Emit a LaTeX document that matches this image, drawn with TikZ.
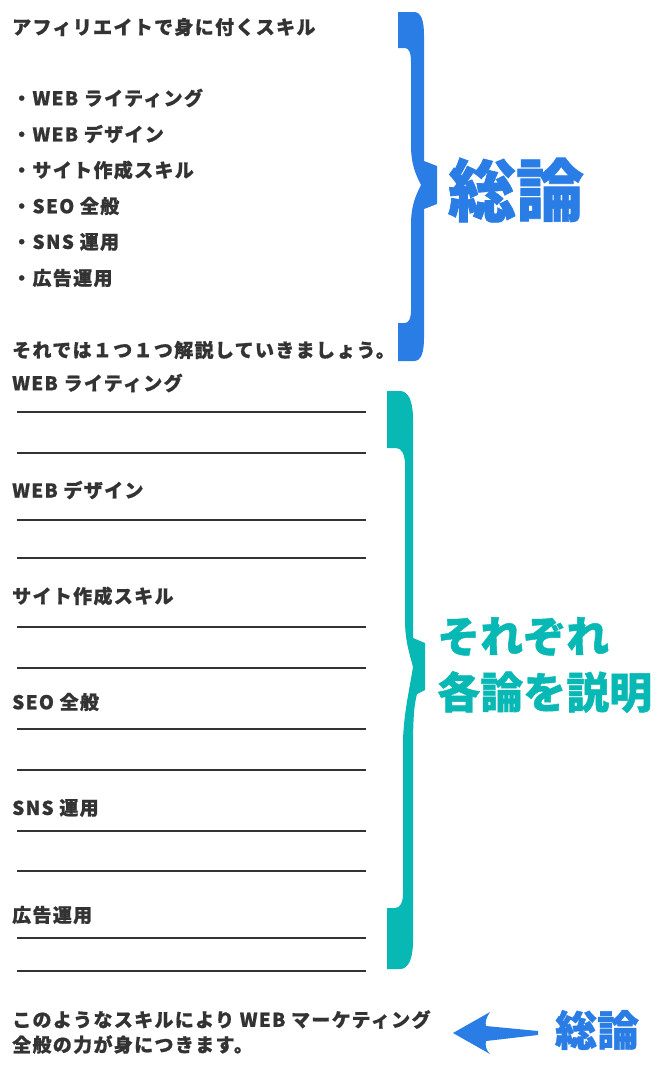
\documentclass[tikz,border=0pt]{standalone}
\usepackage{fontspec}
\usepackage{xcolor}
\usepackage{tikz}
\newfontfamily\jpfont[LetterSpace=7, FakeBold=0.8]{Noto Sans CJK JP}
\newfontfamily\jpbig[FakeBold=1]{Noto Sans CJK JP}
\definecolor{cbblue}{HTML}{2B7DE6}
\definecolor{cbteal}{HTML}{08B8B4}
\definecolor{ink}{HTML}{333333}

\begin{document}
\begin{tikzpicture}[x=1pt, y=-1pt,
    txt/.style={anchor=west, inner sep=0pt, text=ink,
      font=\jpfont\bfseries\fontsize{19}{22}\selectfont},
    bigword/.style={inner sep=0pt, font=\jpbig\bfseries},
    rule/.style={ink, line width=2pt}]

  \useasboundingbox (0,0) rectangle (660,1068);

  % -- the summary block at the top
  \node[txt] (title) at (12,27) {アフィリエイトで身に付くスキル};
  \foreach \ty/\name [count=\i] in {98/WEB ライティング, 134/WEB デザイン,
      170/サイト作成スキル, 206/SEO 全般, 242/SNS 運用, 278/広告運用}{
    \node[txt] (item\i) at (12,\ty) {・\name};}
  \node[txt] (closing) at (12,350) {それでは１つ１つ解説していきましょう。};

  % blue brace, tip pointing right at the middle
  \fill[cbblue] (398,12) -- (414,12) .. controls (421,12) and (424,20) .. (424,35)
    -- (424,161) -- (437,166) -- (437,204) -- (424,209) -- (424,338)
    .. controls (424,353) and (421,361) .. (414,361) -- (398,361) -- (398,323)
    -- (405,323) .. controls (409,323) and (411,318) .. (411,310) -- (411,225)
    .. controls (411,205) and (416,195) .. (421,185)
    .. controls (416,175) and (411,165) .. (411,145) -- (411,62)
    .. controls (411,53) and (409,48) .. (405,48) -- (398,48) -- cycle;
  \node[bigword, text=cbblue, font=\jpbig\bfseries\fontsize{68}{70}\selectfont]
    (overview) at (516,190) {総論};

  % -- one heading per skill, each with two blank writing lines under it
  \foreach \ty/\la/\lb/\name [count=\i] in {383/412/453/WEB ライティング,
      490/520/558/WEB デザイン, 596/627/668/サイト作成スキル,
      702/729/770/SEO 全般, 808/831/871/SNS 運用, 915/938/971/広告運用}{
    \node[txt] (head\i) at (12,\ty) {\name};
    \draw[rule] (17,\la) -- (366,\la);
    \draw[rule] (17,\lb) -- (366,\lb);}

  % teal brace over all the headings
  \fill[cbteal] (387,391) -- (400,391) .. controls (408,391) and (413,400) .. (413,420)
    -- (413,638) -- (425,643) -- (425,690) -- (417,694)
    .. controls (414,705) and (413,720) .. (413,750) -- (413,940)
    .. controls (413,960) and (408,969) .. (400,969) -- (387,969) -- (387,908)
    -- (395,908) .. controls (400,908) and (403,903) .. (403,893) -- (403,740)
    .. controls (404,712) and (409,692) .. (413,667)
    .. controls (409,652) and (405,640) .. (405,620) -- (405,465)
    .. controls (405,455) and (402,448) .. (396,448) -- (387,448) -- cycle;
  \node[bigword, text=cbteal, anchor=west,
    font=\jpbig\bfseries\fontsize{43}{56}\selectfont, align=left]
    (each) at (437,665) {それぞれ\\各論を説明};

  % -- closing summary, with the arrow back to it
  \node[txt, align=left, font=\jpfont\bfseries\fontsize{19}{25}\selectfont]
    (summary) at (12,1032) {このようなスキルにより WEB マーケティング\\全般の力が身につきます。};
  \fill[cbblue] (453,1033) -- (490,1012) .. controls (486,1018) and (485,1022) .. (486,1026)
    -- (538,1031) -- (538,1035) -- (486,1041)
    .. controls (485,1045) and (486,1050) .. (490,1054) -- cycle;
  \node[bigword, text=cbblue, font=\jpbig\bfseries\fontsize{42}{44}\selectfont]
    (overview2) at (597,1030) {総論};

\end{tikzpicture}
\end{document}
